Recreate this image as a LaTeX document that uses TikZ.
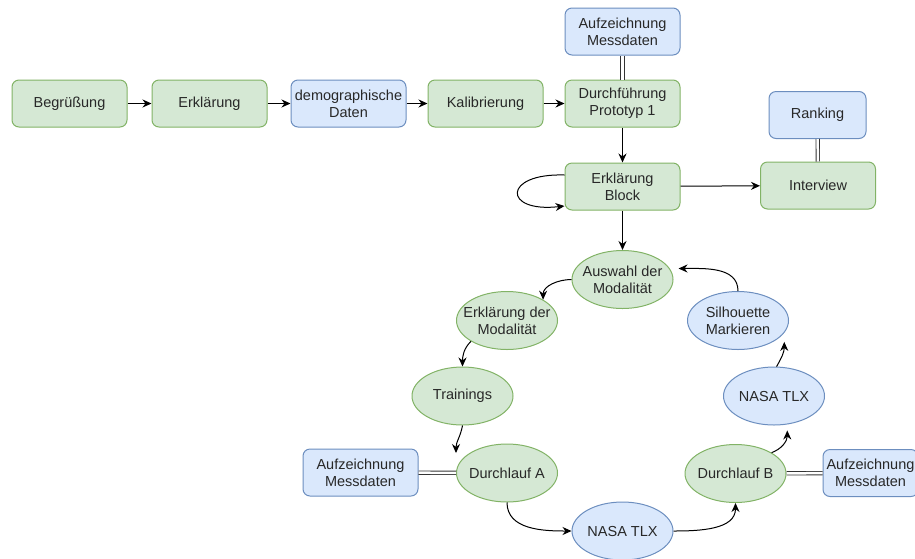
\documentclass[tikz,border=0pt]{standalone}
\usepackage{fontspec}
\setmainfont{Liberation Sans}
\usetikzlibrary{arrows.meta, positioning, shapes.geometric}
\definecolor{gfill}{HTML}{D5E8D4}
\definecolor{gline}{HTML}{82B366}
\definecolor{bfill}{HTML}{DAE8FC}
\definecolor{bline}{HTML}{6C8EBF}
\definecolor{txtgray}{RGB}{40, 40, 40}

\begin{document}
\begin{tikzpicture}[x=1pt, y=1pt,
  node distance=24pt and 24pt,
  box/.style={rounded corners=7pt, minimum width=115pt, minimum height=47pt,
              inner sep=1pt, line width=1pt, align=center, text=txtgray,
              font=\fontsize{14.5}{17}\selectfont},
  gbox/.style={box, draw=gline, fill=gfill},
  bbox/.style={box, draw=bline, fill=bfill},
  ell/.style={ellipse, minimum width=101pt, minimum height=58pt,
              inner xsep=-20pt, inner ysep=0pt, line width=1pt, align=center,
              text=txtgray, font=\fontsize{14.5}{17}\selectfont},
  gell/.style={ell, draw=gline, fill=gfill},
  bell/.style={ell, draw=bline, fill=bfill},
  arr/.style={-{Stealth[length=9pt, width=8pt]}, line width=1pt},
  dbl/.style={double, double distance=2.5pt, line width=0.9pt, draw=black!80}]
  \path[use as bounding box, clip] (0,0) rectangle (915,-558);

  % top row
  \node[gbox] (begr) at (69.5,-103.5) {Begrüßung};
  \node[gbox, right=24pt of begr]  (erkl)  {Erklärung};
  \node[bbox, right=23pt of erkl]  (demo)  {demographische\\Daten};
  \node[gbox, right=21pt of demo]  (kalib) {Kalibrierung};
  \node[gbox, right=21pt of kalib] (durch) {Durchführung\\Prototyp 1};
  \node[bbox, above=24pt of durch] (aufzT) {Aufzeichnung\\Messdaten};
  \node[gbox, below=35pt of durch] (block) {Erklärung\\Block};
  \node[gbox] (interv) at (818,-185.5) {Interview};
  \node[bbox, minimum width=97pt] (rank) at (817.5,-115) {Ranking};

  % loop
  \node[gell] (auswahl) at (622.5,-279.5) {Auswahl der\\Modalität};
  \node[gell] (erklmod) at (507,-320.5)   {Erklärung der\\Modalität};
  \node[bell] (silh)    at (738,-320.5)   {Silhouette\\Markieren};
  \node[gell] (train)   at (462.5,-396)   {Trainings};
  \node[bell] (nasaR)   at (774,-396)     {NASA TLX};
  \node[gell] (durchA)  at (507,-473)     {Durchlauf A};
  \node[gell] (durchB)  at (735.5,-473.5) {Durchlauf B};
  \node[bell] (nasaB)   at (622.5,-531)   {NASA TLX};
  \node[bbox] (aufzL)   at (360.5,-472.5) {Aufzeichnung\\Messdaten};
  \node[bbox, minimum width=95pt] (aufzR) at (870.5,-473) {Aufzeichnung\\Messdaten};

  \draw[arr] (begr) -- (erkl);
  \draw[arr] (erkl) -- (demo);
  \draw[arr] (demo) -- (kalib);
  \draw[arr] (kalib) -- (durch);
  \draw[dbl] (aufzT) -- (durch);
  \draw[arr] (durch) -- (block);
  \draw[arr] ([yshift=11.5pt]block.west) .. controls +(-62,2) and +(-62,-7) .. ([yshift=-19.5pt]block.west);
  \draw[arr] (block) -- (interv);
  \draw[dbl] (rank) -- (interv);
  \draw[arr] (block) -- (auswahl);

  \draw[arr] (auswahl.west) to[out=180, in=90] (erklmod.30);
  \draw[arr] (erklmod.-150) to[out=225, in=90] (train.north);
  \draw[arr] (train.south) to[out=-100, in=90] ([yshift=20pt]durchA.west);
  \draw[arr] (durchA.south) to[out=-90, in=180] (nasaB.west);
  \draw[arr] (nasaB.east) to[out=0, in=-90] (durchB.south);
  \draw[arr] (durchB.30) to[out=20, in=-90] ([yshift=-6pt]nasaR.-65);
  \draw[arr] (nasaR.85) to[out=60, in=-90] ([yshift=-9pt]silh.-15);
  \draw[arr] (silh.north) to[out=90, in=0] ([shift={(5pt,11pt)}]auswahl.east);
  \draw[dbl] (aufzL) -- (durchA);
  \draw[dbl] (durchB) -- (aufzR);
\end{tikzpicture}
\end{document}
